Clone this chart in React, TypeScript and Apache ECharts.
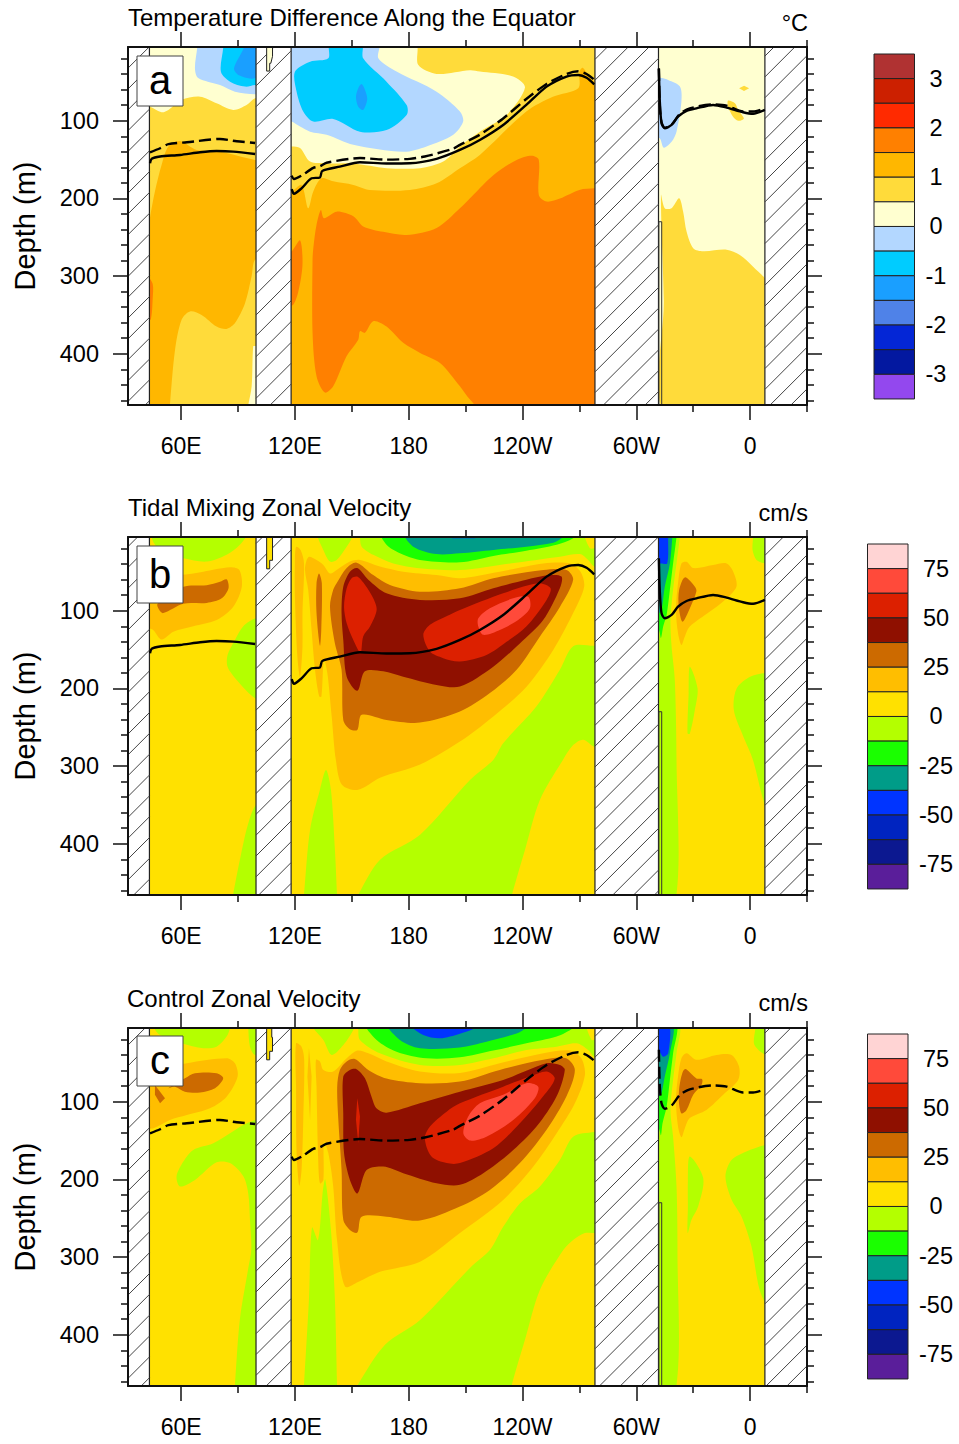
import React, { useEffect, useRef } from "react";
import * as echarts from "echarts";

const FONT = "Liberation Sans";
const LON_RANGE = [32, 390];
const DEPTH_RANGE = [5, 466];

const xMajorValues = [60, 120, 180, 240, 300, 360];
const xMajorLabels = ["60E", "120E", "180", "120W", "60W", "0"];
const xMinorValues = [90, 150, 210, 270, 330, 390];
const yMajorValues = [100, 200, 300, 400];
const yMinorValues = [20, 40, 60, 80, 120, 140, 160, 180, 220, 240, 260, 280, 320, 340, 360, 380, 420, 440, 460];

const tempLegendColors = ["#b03232", "#cc2000", "#ff2a00", "#ff8000", "#ffb700", "#ffdb3a", "#ffffd0", "#b3d7ff", "#00ccff", "#1a9fff", "#4f82e8", "#0426d6", "#0318a0", "#9348ee"];
const tempLegendLabels = ["3", "2", "1", "0", "-1", "-2", "-3"];
const velLegendColors = ["#ffd4d4", "#ff4a3a", "#dc2000", "#8f1000", "#cc6a00", "#ffbe00", "#ffe100", "#b4ff00", "#1aff00", "#009c88", "#0034ff", "#0024c0", "#0c1890", "#5a1e9a"];
const velLegendLabels = ["75", "50", "25", "0", "-25", "-50", "-75"];

const ORANGE = "#ff8000", AMBER_T = "#ffb700", YELLOW_T = "#ffdb3a", PALE = "#ffffd0", LBLUE = "#b3d7ff", CYAN = "#00ccff", BLUE_T = "#1a9fff";
const PINK = "#ff4a3a", RED = "#dc2000", DARK = "#8f1000", BROWN = "#cc6a00", AMBER = "#ffbe00", GOLD = "#ffe100", LIME = "#b4ff00", GREEN = "#1aff00", TEAL = "#009c88", BLUE = "#0034ff";

// land: [lon west, lon east]
const landSpans = [[32, 43.3], [99.5, 118], [278.2, 311.7], [367.8, 390]];
const atlanticStep = [[311.9, 230], [313.4, 230], [313.4, 470], [311.9, 470]];

const baseIndian = [[42, 0], [105, 0], [105, 470], [42, 470]];
const basePacific = [[116, 0], [280, 0], [280, 470], [116, 470]];
const baseAtlantic = [[310, 0], [369, 0], [369, 470], [310, 470]];

// thermocline depth, tidal mixing run
const tidalThermoIndian = [[43.6, 154.7], [44.5, 149], [48.9, 146], [59.4, 144], [70, 140.6], [78.7, 139], [87.5, 139.7], [99, 142.7]];
const tidalThermoPacific = [[118.3, 188], [119.5, 194], [123.5, 187], [128.8, 174], [133.2, 173], [134.4, 164.6], [143.7, 159], [154.3, 153.4], [168.3, 155], [180.6, 154.7], [194.7, 149], [207, 137.6], [217.5, 124.7], [229.8, 105.4], [242, 79.6], [252.7, 56], [263.2, 43], [269.4, 41], [273.8, 44.5], [277.8, 53]];
const tidalThermoAtlantic = [[311.9, 32.5], [312.4, 75], [313.3, 103], [315, 109.7], [318.6, 105.4], [322, 94.7], [326.5, 87.4], [331.7, 84], [340.5, 79.6], [347.6, 83], [356.3, 89], [361.6, 91], [367.8, 86]];
// thermocline depth, control run
const controlThermoIndian = [[43.6, 140.6], [48.9, 135.4], [53.3, 130], [63, 127.7], [80.5, 123.4], [89.3, 126.4], [99, 128.6]];
const controlThermoPacific = [[118.3, 170.6], [119.5, 175], [123.5, 170.6], [129.7, 160.7], [133.2, 158.6], [136.7, 154], [154.3, 148], [168.3, 150], [180.6, 149], [188.5, 146], [203.5, 136], [207, 131], [217.5, 118], [229.8, 97], [242, 72], [252.7, 52.6], [263.2, 39.7], [269.4, 36.3], [273.8, 39.7], [277.8, 47]];
const controlThermoAtlantic = [[311.9, 33], [312.4, 80.5], [313.3, 102], [315, 109], [318.6, 105], [323, 91], [328.2, 84], [340.5, 79], [347.6, 80.5], [356.3, 88], [361.6, 88], [367.8, 84]];

// ---- panel a: temperature difference contours (lon, depth)
const aIndianOrange = [[42, 300], [45, 310], [45, 330], [44, 356], [42, 356]];
const aIndianYellowDeep = [[54.1, 470], [54.1, 466], [56.8, 395], [60.3, 356], [64.7, 345.5], [70.8, 350], [78.7, 365], [84, 368], [88.4, 360.5], [93.7, 335], [97.2, 300], [99, 279], [105, 279], [105, 470]];
const aIndianPaleDeep = [[95.4, 466], [97.2, 442], [98, 390.5], [99, 390], [105, 390], [105, 470], [95, 470]];
const aIndianYellow = [[42, 0], [105, 0], [105, 150.4], [99, 150.4], [80.5, 140], [68.2, 137.6], [59.4, 126], [53.3, 133], [49.7, 157], [46.2, 191], [43.6, 225], [42, 260]];
const aIndianPale = [[42, 0], [105, 0], [105, 70], [99, 71], [94.5, 79.6], [87.5, 86], [78.7, 77.5], [70, 69], [60.3, 73], [53.3, 86], [49.7, 89], [43.6, 82], [42, 82]];
const aIndianLBlue = [[68.5, 0], [68.5, 5.8], [67.3, 32.5], [69, 45], [80.5, 54], [88.4, 62.5], [99, 66], [105, 66], [105, 0]];
const aIndianCyan = [[82.2, 0], [82.2, 6], [81, 37], [85.8, 49.6], [93.7, 56], [99, 54], [105, 54], [105, 0]];
const aIndianBlue = [[93.1, 0], [93.1, 6], [87.9, 32.5], [90.2, 41], [97.2, 46], [99, 45], [105, 45], [105, 0]];
const aPacificOrange = [[129.3, 373], [129.3, 279], [129.7, 264], [131.4, 234], [133.7, 215], [135.3, 225.5], [142, 217], [150.8, 223], [156, 236], [166.6, 243], [178.9, 247], [194.7, 238], [207, 212.6], [214, 195.5], [224.6, 170], [236.9, 150.4], [244.8, 145], [248.6, 150.4], [248.6, 195.5], [252.7, 204], [259.7, 200], [270, 189], [278, 187], [282, 187], [282, 480], [222, 480], [212.3, 459], [207, 442], [196.5, 412], [186, 399], [177.1, 386], [168.3, 365], [161.3, 358], [156.9, 373], [154.3, 371], [153.4, 382], [147.3, 403], [140.2, 442], [135.8, 450], [131.4, 429]];
const aPacificOrangeWest = [[116, 268], [118.3, 268], [122.7, 254], [124, 285], [121.8, 320], [119.1, 337], [116, 337]];
const aPacificYellow = [[116, 0], [282, 0], [282, 50], [278, 49.6], [274.6, 41], [271.7, 31.6], [270, 37], [269.4, 58], [256, 69], [242, 88], [217.5, 144], [207, 161], [194.7, 180.5], [180.6, 189], [159.5, 189], [150.8, 182.6], [140.2, 178], [134, 174], [129.7, 191], [127, 212.6], [123.5, 182.6], [118.3, 191], [116, 191]];
const aPacificPale = [[116, 0], [183.3, 0], [185, 28], [194.7, 39.7], [212.3, 35], [217.5, 36.7], [235, 43], [241.3, 57.3], [231.6, 92.5], [217.5, 114], [207, 133], [198.2, 152.6], [186, 161], [168.3, 161], [150.8, 155], [136.7, 155], [128, 152.6], [122.7, 135], [118.3, 133], [116, 133]];
const aPacificLBlue = [[116, 0], [164, 0], [164, 19.6], [173.6, 36.7], [194.7, 62.5], [207, 88], [208.7, 101], [203.5, 118], [189.4, 133], [177.1, 140], [150.8, 131], [136.7, 118], [128, 114], [122.7, 107.5], [118.3, 101], [116, 101]];
const aPacificCyan = [[138.5, 0], [137.6, 19.6], [128, 24], [120, 37], [120.9, 62.5], [124.4, 88], [129.7, 101], [140.2, 97.7], [154.3, 114], [168.3, 112], [178.9, 92.5], [178.9, 79.6], [168.3, 49.6], [156, 19.6], [155.2, 0]];
const aPacificBlue = [[155.2, 52.6], [157.3, 62.5], [158.1, 73], [156, 86], [153.4, 82], [152.2, 69], [153.4, 58]];
const aAtlanticYellow = [[315.6, 480], [314.5, 330], [313, 195.5], [315, 212.6], [318.6, 212.6], [322.6, 199.8], [324.7, 217], [326.5, 242.7], [330, 264], [335.3, 268], [347.6, 266], [354.6, 272.7], [361.6, 288], [369, 310], [369, 480]];
const aAtlanticLBlue = [[310, 45], [313.3, 45], [316.8, 47.5], [323, 56], [323.8, 75], [321.2, 114], [318.6, 127], [314.5, 134.6], [312.4, 122.5], [310, 122]];
const aAtlanticSpotNorth = [[354.2, 58], [356.8, 54.8], [359.5, 58], [356.8, 61.6]];
const aAtlanticSpotSouth = [[348.4, 74], [352, 77.5], [353.7, 86], [356.7, 97], [353.7, 100], [351, 94.7], [348.4, 82]];
const aStrait = [[105.1, 0], [108.2, 0], [108.2, 17], [107.3, 26], [106.7, 26], [106.7, 36], [105.1, 36]];

// ---- panel b: tidal mixing zonal velocity contours
const bIndianLimeTop = [[45, 0], [45.5, 12], [50.6, 25], [61.2, 32.5], [73.5, 36.7], [84, 28], [91, 15], [94.5, 0]];
const bIndianAmber = [[42, 56], [59.4, 54], [71.7, 49.6], [85.8, 44], [90.7, 47.5], [92, 69], [87.5, 94.7], [78.7, 112], [66.4, 120], [55.9, 127], [49.7, 137], [45.4, 125], [42, 120]];
const bIndianBrown = [[84, 59.5], [85, 71], [81.4, 84], [73.5, 90], [61.2, 91], [50.6, 103], [48.5, 99], [47.6, 91], [61.2, 69], [73.5, 67], [80.5, 62.5]];
const bIndianLimeEast = [[105, 110], [99, 110], [92.8, 120], [88.4, 137.6], [84.5, 157], [84.5, 172], [89.3, 189], [99, 212.6], [105, 215]];
const bIndianLimeDeep = [[87.4, 470], [87.4, 466], [91, 420.7], [95.2, 375.6], [99.5, 350], [105, 350], [105, 470]];
const bPacificLimeDeep = [[282, 145], [277.8, 145], [266.7, 145.6], [259.7, 176], [247.4, 223], [229.8, 270.6], [224.6, 292], [212.3, 318], [186, 388.5], [164.9, 420.7], [153.3, 466], [153, 470], [234.4, 470], [234.4, 466], [241.3, 408], [249.2, 343.5], [261.3, 292], [266.7, 273], [272, 266], [277.8, 275], [282, 275]];
const bPacificLimeWest = [[124.8, 466], [128, 382], [133.2, 330.6], [136.4, 305], [139, 330.6], [141.1, 408], [142.2, 466], [142.2, 470], [124.8, 470]];
const bPacificAmberWest = [[120.6, 18], [123, 21.7], [124.8, 39], [124, 103], [124, 146], [122.7, 184.8], [121.3, 159], [120, 82], [120, 39]];
const bPacificAmber = [[127.6, 30.3], [131.4, 34.6], [135, 41], [138.5, 52], [142, 47.5], [149, 36.7], [154.3, 34.6], [164.8, 43], [177.1, 49.6], [194.7, 54], [207, 58], [228, 49.6], [251, 39], [265, 39], [270.6, 49.6], [272.5, 69], [266.7, 103], [256.2, 150.4], [242, 198], [224.6, 236], [207, 268.4], [186, 298], [164.9, 315], [153.3, 330.6], [144.8, 324], [141.6, 292], [139.4, 236], [137.1, 180], [135.3, 163], [134, 210.5], [132.8, 210.5], [130.6, 176], [128.8, 125], [127, 73], [125.3, 47.5], [126.2, 34.6]];
const bPacificBrownStreak = [[132.7, 52], [134.2, 64.6], [133.9, 124.7], [133.2, 145], [131.4, 103], [131.4, 64.6]];
const bPacificBrown = [[138.5, 94.7], [140.2, 73], [142, 64.6], [147.3, 45], [152.5, 38], [161.3, 54], [170.1, 66.8], [185.9, 75.4], [207, 71], [224.6, 58], [251, 47.5], [263.2, 47.5], [266.7, 60], [259.7, 95], [249.2, 133], [236.9, 176], [222.8, 206], [207, 229.8], [185.9, 244], [168.3, 240.5], [155.2, 234], [152.9, 253.4], [149, 252.5], [145.5, 240.5], [144.6, 176], [141.1, 142]];
const bPacificDark = [[145.5, 69], [149, 49.6], [152.9, 45], [158.7, 60], [168.3, 77.5], [185.9, 86], [207, 84], [224.6, 71], [242, 60], [254.4, 54], [260.6, 56], [259.7, 71], [250.9, 112], [238.6, 142], [224.6, 172], [207, 197.6], [194.7, 195.5], [177.1, 185], [166.6, 178], [156.9, 178], [153, 203], [147.3, 184.8], [145.5, 137.6], [144.6, 103]];
const bPacificRedWest = [[152.9, 56], [157, 66.8], [161.3, 84], [163.1, 99], [159.6, 120.4], [156, 133], [154.6, 154], [150.8, 137.6], [147.3, 116], [145.9, 94.7], [147.3, 71], [149.9, 58]];
const bPacificRedEast = [[207, 99], [201.7, 105], [191.2, 118], [187.7, 131], [191.2, 152.6], [198.2, 161], [207, 165.4], [221, 157], [231.6, 140], [242, 120.4], [252.7, 86], [254.8, 71], [248.3, 64.6], [229.8, 77.5]];
const bPacificPink = [[216.7, 109.7], [222.8, 96.8], [235.1, 84], [243, 81.8], [243.9, 96.8], [237.7, 111.8], [228, 124.7], [219.3, 131], [216.7, 120.4]];
const bPacificLimePatch = [[132.3, 0], [135, 21.7], [138.5, 36.7], [142, 34.6], [147.3, 17.4], [149.9, 7], [150.5, 0]];
const bPacificLimeTop = [[154.3, 0], [154.3, 6.7], [155.2, 17.4], [161.3, 28], [171.9, 39], [185.9, 45.3], [207, 47.5], [233.4, 39], [259.7, 30.3], [270.3, 27], [274.6, 34.6], [277.8, 43], [282, 43], [282, 0]];
const bPacificGoldPatch = [[272.9, 0], [275.5, 19.6], [278, 19.6], [282, 19.6], [282, 0]];
const bPacificGreen = [[165.7, 0], [168.3, 15], [175.4, 26], [185.9, 34.6], [207, 37.6], [224.6, 29.4], [242, 22.6], [258, 15], [266.7, 6.7], [268, 0]];
const bPacificTeal = [[178, 0], [182.4, 17.4], [194.7, 27], [207, 26], [224.6, 21.7], [242, 17.4], [256.2, 12.3], [260.6, 6.7], [261.5, 0]];
const bPacificBlue = [[203, 0], [203, 6.5], [215, 6.5], [216, 0]];
const bAtlanticLimeWest = [[310, 0], [323, 0], [323, 5], [321.2, 39], [319.4, 73], [318, 112], [318.6, 146], [320.3, 189], [321.2, 292], [320.9, 470], [310, 470]];
const bAtlanticGreen = [[310, 0], [321.2, 0], [321.2, 5], [319.4, 39], [317.7, 73], [316, 105], [314.2, 120], [313, 135], [312, 125], [310, 120]];
const bAtlanticTeal = [[310, 0], [319, 0], [319, 5], [317.7, 39], [315, 69], [313.3, 99], [312, 103], [310, 103]];
const bAtlanticBlue = [[310, 0], [316.8, 0], [316.8, 5], [316.3, 39], [313, 39], [310, 39]];
const bAtlanticAmber = [[323.8, 39], [326.5, 37], [330, 45], [340.5, 41], [347.6, 39], [351.1, 49.6], [352.8, 69], [345.8, 88], [338.8, 101], [328.2, 120.4], [325.6, 133], [323.8, 144], [322, 129], [320.9, 99], [322, 64.6]];
const bAtlanticBrown = [[325.6, 57], [330.9, 69], [331.7, 75], [328.2, 97], [324.4, 114], [322.4, 95], [322.6, 73]];
const bAtlanticLimeNE = [[361.6, 0], [361.6, 5], [361.3, 21.7], [363.4, 34.6], [367.8, 39], [370, 39], [370, 0]];
const bAtlanticLimeEast = [[370, 180], [367.8, 180], [360, 185], [352.9, 200], [351.4, 227.6], [356.4, 262], [361.5, 292], [366.2, 337], [370, 365]];
const bAtlanticLimeStreak = [[328.2, 172], [332.3, 199.8], [330.9, 227.6], [328.2, 258.5], [327, 257.6], [327.6, 206]];
const bStrait = [[105.1, 0], [108.2, 0], [108.2, 35], [106.7, 35], [106.7, 46], [105.1, 46]];

// ---- panel c: control zonal velocity contours
const cIndianLimeTop = [[46, 0], [46.2, 7], [48.9, 14], [60.3, 24.7], [71.7, 31], [78.7, 29], [84, 16], [85.8, 5], [86, 0]];
const cIndianLimeNE = [[95.4, 0], [95.4, 5], [96.3, 29], [99, 39.7], [105, 39.7], [105, 0]];
const cIndianAmber = [[42, 80.5], [50.6, 59], [63, 50.5], [84, 44], [88.4, 50.5], [89.8, 67.6], [84, 93.4], [75.2, 108.4], [63, 117], [54.1, 123.4], [45.4, 134], [42, 133]];
const cIndianBrown = [[62, 69.8], [67.3, 63.3], [78.7, 63.3], [82.2, 69.8], [77.9, 82.6], [70, 88], [62, 87], [56.8, 80.5], [53.3, 82.6]];
const cIndianBrownWest = [[46.2, 78.4], [51.5, 95.5], [48.9, 102], [46.2, 91]];
const cIndianLimeEast = [[105, 123.4], [99, 123.4], [92.8, 130], [85.8, 140.6], [77, 153.4], [66.4, 162], [61.2, 177], [57.6, 196], [59.4, 209], [67.3, 200.6], [78.7, 178], [85.8, 179], [92.8, 196], [95.4, 218], [96.3, 252], [97, 290], [95.3, 316], [91, 380], [88.4, 464], [88.4, 470], [105, 470]];
const cPacificLimeDeep = [[282, 139], [277.8, 139], [266.7, 145], [259.7, 175], [249.2, 209], [238.6, 231], [229.8, 261], [222.8, 291], [212.3, 314], [186, 381], [167.5, 413], [153.3, 464], [153, 470], [234.4, 470], [234.4, 464], [241.3, 406.5], [249.2, 342], [261.5, 291], [266.7, 278], [272.9, 269], [277.8, 269], [282, 269]];
const cPacificLimeWest = [[124.8, 464], [127.4, 355], [129, 262], [132.2, 278], [134.8, 213], [136, 200], [139, 265], [141.1, 355], [142.2, 464], [142.2, 470], [124.8, 470]];
const cPacificAmberWest = [[120.6, 24.7], [123.5, 29], [124.9, 46], [124.4, 123.4], [123.5, 188], [122.3, 208], [120.9, 166], [120.6, 80.5]];
const cPacificAmberThin = [[127.4, 31], [128.8, 67.6], [128, 123.4], [126.6, 67.6]];
const cPacificAmber = [[140.2, 61], [147.3, 44], [152.9, 34], [158.7, 37.6], [168.3, 48], [185.9, 61], [207, 63], [228, 50.5], [251, 37.6], [265, 34], [271, 44], [272.9, 65.5], [267.6, 102], [258, 140.6], [245.7, 183.5], [229.8, 226.4], [207, 269], [186, 306], [164.9, 319], [153.3, 332], [146.4, 338], [142.2, 278], [140.2, 209], [137.6, 166], [135.3, 151], [135, 200.6], [133.2, 205], [132.3, 175], [131.4, 80.5], [131.1, 46], [133.2, 48], [135, 59]];
const cPacificBrown = [[142.3, 80.5], [143.7, 59], [147.3, 48], [151.6, 45], [158.7, 59], [168.3, 70], [185.9, 76], [207, 74], [228, 59], [251, 46], [263, 44], [267.6, 59], [263.2, 93], [252.7, 136], [238.6, 179], [222.8, 213.5], [207, 235], [185.9, 253], [168.3, 248], [155.2, 248], [152.9, 268.4], [149, 265], [145.5, 252], [144.6, 188], [142.9, 123.4]];
const cPacificDark = [[145.5, 67.6], [149, 59], [152.5, 58], [157, 70], [160.4, 93.4], [163, 108.4], [168.3, 114], [185.9, 102], [207, 87], [229.8, 72], [252.7, 50.5], [259.7, 52.6], [262.3, 59], [258, 93], [247.4, 132], [233.4, 166], [219.3, 192], [207, 207], [194.7, 205], [177.1, 192], [166.6, 183.5], [157.8, 188], [153, 218], [149, 200.6], [145.9, 166], [145.5, 115]];
const cPacificRedStreak = [[152.9, 95.5], [154.3, 119], [153.4, 153], [152.2, 123]];
const cPacificRed = [[207, 102], [200, 112.7], [191.2, 132], [188.5, 147], [192, 170.6], [200, 179], [207, 179], [224.6, 160], [238.6, 127.7], [250.9, 93], [257, 70], [252.7, 61], [243.9, 67.6], [229.8, 80.5]];
const cPacificPink = [[208.8, 140.6], [211.4, 119], [217.5, 102], [229.8, 91], [242, 76], [248.3, 80.5], [246.5, 95.5], [235.1, 123.4], [221, 145], [212.3, 150]];
const cPacificLimePatch = [[129.7, 0], [129.7, 5], [135, 20.4], [139.4, 39.7], [145.5, 27], [150.8, 7.5], [151.5, 0]];
const cPacificLimeTop = [[153.4, 0], [153.4, 7], [154.3, 20.4], [164.8, 37.6], [185.9, 52.6], [207, 52.6], [224.6, 44], [242, 33.3], [258, 29], [268.5, 24.7], [274.6, 33.3], [277.8, 42], [282, 42], [282, 0]];
const cPacificGoldPatch = [[273.8, 0], [276.4, 20.4], [278, 20], [282, 20], [282, 0]];
const cPacificGreen = [[157.8, 0], [163.1, 20.4], [173.6, 35.5], [189.4, 44], [207, 42.8], [224.6, 34], [242, 24.7], [258, 16], [266.7, 5], [267, 0]];
const cPacificTeal = [[169.2, 0], [175.4, 20.4], [185.9, 31], [207, 30], [221, 22.6], [236.9, 12], [242, 5], [243, 0]];
const cPacificBlue = [[180.6, 0], [187.7, 14], [196.5, 18.3], [207, 12.4], [215, 5], [216, 0]];
const cAtlanticLimeWest = [[310, 0], [322.6, 0], [321.2, 37.6], [319.4, 72], [318, 110.5], [319.4, 145], [321.2, 209], [321.7, 291], [320.9, 470], [310, 470]];
const cAtlanticGreen = [[310, 0], [321.2, 0], [319.4, 37.6], [317.7, 72], [316, 106], [313.8, 128], [313, 143], [312, 135], [310, 130]];
const cAtlanticTeal = [[310, 0], [319.4, 0], [317.7, 37.6], [315, 67.6], [313.3, 89], [312, 93], [310, 93]];
const cAtlanticBlue = [[310, 0], [317.3, 0], [316.8, 37.6], [314.2, 42], [312, 35], [310, 33]];
const cAtlanticAmber = [[323.8, 44], [326.5, 37.6], [331.7, 46], [342.3, 39.7], [350.2, 39.7], [354.2, 55], [353.7, 72], [345.8, 91], [337, 110.5], [328.2, 121], [325.6, 134], [323.8, 145.7], [322, 132], [320.9, 97.7], [322, 67.6]];
const cAtlanticBrown = [[325.6, 58], [331.7, 70], [334.7, 71], [334.4, 78], [330, 91], [326.5, 110.5], [323.8, 115], [322.4, 97.7], [323, 76]];
const cAtlanticLimeNE = [[362.8, 0], [362.8, 5], [362, 24.7], [364.3, 33], [367.8, 39], [370, 39], [370, 0]];
const cAtlanticLimeEast = [[370, 155.6], [367.8, 155.6], [358, 164], [350.2, 175], [347, 196], [350.2, 226], [355.5, 248], [360.7, 286], [365, 342], [370, 365]];
const cAtlanticLimeStreak = [[328.2, 170.6], [335.3, 198.5], [332.6, 235], [329.1, 252], [327.1, 269], [327.2, 235], [327.2, 200.6]];
const cStrait = [[105.1, 0], [107.8, 0], [107.8, 17], [108.2, 17], [108.2, 35], [106.7, 35], [106.7, 46], [105.1, 46]];

type Layer = [string, number[][]];
const layersA: Layer[] = [
  [AMBER_T, baseIndian], [AMBER_T, basePacific], [PALE, baseAtlantic],
  [ORANGE, aIndianOrange], [YELLOW_T, aIndianYellowDeep], [PALE, aIndianPaleDeep], [YELLOW_T, aIndianYellow], [PALE, aIndianPale], [LBLUE, aIndianLBlue], [CYAN, aIndianCyan], [BLUE_T, aIndianBlue],
  [ORANGE, aPacificOrange], [ORANGE, aPacificOrangeWest], [YELLOW_T, aPacificYellow], [PALE, aPacificPale], [LBLUE, aPacificLBlue], [CYAN, aPacificCyan], [BLUE_T, aPacificBlue],
  [YELLOW_T, aAtlanticYellow], [LBLUE, aAtlanticLBlue], [YELLOW_T, aAtlanticSpotNorth], [YELLOW_T, aAtlanticSpotSouth],
];
const layersB: Layer[] = [
  [GOLD, baseIndian], [GOLD, basePacific], [GOLD, baseAtlantic],
  [LIME, bIndianLimeTop], [AMBER, bIndianAmber], [BROWN, bIndianBrown], [LIME, bIndianLimeEast], [LIME, bIndianLimeDeep],
  [LIME, bPacificLimeDeep], [LIME, bPacificLimeWest], [AMBER, bPacificAmberWest], [AMBER, bPacificAmber], [BROWN, bPacificBrownStreak], [BROWN, bPacificBrown], [DARK, bPacificDark], [RED, bPacificRedWest], [RED, bPacificRedEast], [PINK, bPacificPink],
  [LIME, bPacificLimePatch], [LIME, bPacificLimeTop], [GOLD, bPacificGoldPatch], [GREEN, bPacificGreen], [TEAL, bPacificTeal], [BLUE, bPacificBlue],
  [LIME, bAtlanticLimeWest], [GREEN, bAtlanticGreen], [TEAL, bAtlanticTeal], [BLUE, bAtlanticBlue], [AMBER, bAtlanticAmber], [BROWN, bAtlanticBrown], [LIME, bAtlanticLimeNE], [LIME, bAtlanticLimeEast], [LIME, bAtlanticLimeStreak],
];
const layersC: Layer[] = [
  [GOLD, baseIndian], [GOLD, basePacific], [GOLD, baseAtlantic],
  [LIME, cIndianLimeTop], [LIME, cIndianLimeNE], [AMBER, cIndianAmber], [BROWN, cIndianBrown], [BROWN, cIndianBrownWest], [LIME, cIndianLimeEast],
  [LIME, cPacificLimeDeep], [LIME, cPacificLimeWest], [AMBER, cPacificAmberWest], [AMBER, cPacificAmberThin], [AMBER, cPacificAmber], [BROWN, cPacificBrown], [DARK, cPacificDark], [RED, cPacificRedStreak], [RED, cPacificRed], [PINK, cPacificPink],
  [LIME, cPacificLimePatch], [LIME, cPacificLimeTop], [GOLD, cPacificGoldPatch], [GREEN, cPacificGreen], [TEAL, cPacificTeal], [BLUE, cPacificBlue],
  [LIME, cAtlanticLimeWest], [GREEN, cAtlanticGreen], [TEAL, cAtlanticTeal], [BLUE, cAtlanticBlue], [AMBER, cAtlanticAmber], [BROWN, cAtlanticBrown], [LIME, cAtlanticLimeNE], [LIME, cAtlanticLimeEast], [LIME, cAtlanticLimeStreak],
];

const panels = [
  { top: 47, title: "Temperature Difference Along the Equator", titleLeft: 128, unit: "\u00b0C", unitY: 23, letter: "a", box: [137, 56, 46, 50], layers: layersA, strait: aStrait, straitColor: PALE, hatch: 3.3, bar: [874, 54], colors: tempLegendColors, labels: tempLegendLabels, solid: true, dashed: true },
  { top: 537, title: "Tidal Mixing Zonal Velocity", titleLeft: 128, unit: "cm/s", unitY: 513, letter: "b", box: [137, 546, 46, 57], layers: layersB, strait: bStrait, straitColor: GOLD, hatch: 12.6, bar: [867.5, 544], colors: velLegendColors, labels: velLegendLabels, solid: true, dashed: false },
  { top: 1028, title: "Control Zonal Velocity", titleLeft: 127, unit: "cm/s", unitY: 1003, letter: "c", box: [137, 1036, 46, 50], layers: layersC, strait: cStrait, straitColor: GOLD, hatch: 20.1, bar: [867.5, 1034], colors: velLegendColors, labels: velLegendLabels, solid: false, dashed: true },
];

const PLOT_LEFT = 128, PLOT_W = 679, PLOT_H = 358;
const HATCH_STEP = 20.83;
const AXIS_COLOR = "#111";

function makeOption() {
  const grid: any[] = [], xAxis: any[] = [], yAxis: any[] = [], series: any[] = [], graphic: any[] = [], title: any[] = [];
  panels.forEach((p, i) => {
    grid.push({ left: PLOT_LEFT, width: PLOT_W, top: p.top, height: PLOT_H, containLabel: false, outerBoundsMode: "none" });
    const xBase = { type: "value", gridIndex: i, min: LON_RANGE[0], max: LON_RANGE[1], splitLine: { show: false }, z: 10 };
    const yBase = { type: "value", gridIndex: i, min: DEPTH_RANGE[0], max: DEPTH_RANGE[1], inverse: true, splitLine: { show: false }, z: 10 };
    const line = { show: true, onZero: false, lineStyle: { color: AXIS_COLOR, width: 2 } };
    const noLine = { show: false, onZero: false };
    const tick = (vals: number[], len: number) => ({ show: true, length: len, customValues: vals, lineStyle: { color: AXIS_COLOR, width: 1.5 } });
    const base = i * 4;
    xAxis.push(
      { ...xBase, position: "bottom", axisLine: line, axisTick: tick(xMajorValues, 15),
        axisLabel: { show: true, customValues: xMajorValues, margin: 29, fontSize: 23, fontFamily: FONT, color: "#000", formatter: (v: number) => xMajorLabels[xMajorValues.indexOf(v)] } },
      { ...xBase, position: "bottom", axisLine: noLine, axisTick: tick(xMinorValues, 7), axisLabel: { show: false } },
      { ...xBase, position: "top", axisLine: line, axisTick: tick(xMajorValues, 15), axisLabel: { show: false } },
      { ...xBase, position: "top", axisLine: noLine, axisTick: tick(xMinorValues, 7), axisLabel: { show: false } },
    );
    yAxis.push(
      { ...yBase, position: "left", axisLine: line, axisTick: tick(yMajorValues, 15),
        name: "Depth (m)", nameLocation: "middle", nameGap: 89, nameRotate: 90, nameTextStyle: { fontSize: 29, fontFamily: FONT, color: "#000" },
        axisLabel: { show: true, customValues: yMajorValues, margin: 29, fontSize: 23.5, fontFamily: FONT, color: "#000" } },
      { ...yBase, position: "left", axisLine: noLine, axisTick: tick(yMinorValues, 7), axisLabel: { show: false } },
      { ...yBase, position: "right", axisLine: line, axisTick: tick(yMajorValues, 15), axisLabel: { show: false } },
      { ...yBase, position: "right", axisLine: noLine, axisTick: tick(yMinorValues, 7), axisLabel: { show: false } },
    );
    const onAxes = { coordinateSystem: "cartesian2d", xAxisIndex: base, yAxisIndex: base, silent: true };

    series.push({
      ...onAxes, type: "custom", clip: true, z: 2,
      data: p.layers.map((l, k) => [l[1][0][0], l[1][0][1], k]),
      renderItem: (params: any, api: any) => {
        const [color, pts] = p.layers[params.dataIndex];
        return {
          type: "polygon",
          shape: { points: pts.map((q) => api.coord(q)), smooth: pts.length > 4 ? 0.3 : 0 },
          style: { fill: color, stroke: null },
        };
      },
    });

    series.push({
      ...onAxes, type: "custom", clip: true, z: 4,
      data: landSpans.map((s) => [s[0], s[1]]),
      renderItem: (params: any, api: any) => {
        const s = landSpans[params.dataIndex];
        const a = api.coord([s[0], DEPTH_RANGE[0]]);
        const b = api.coord([s[1], DEPTH_RANGE[1]]);
        const [L, T, R, B] = [a[0], a[1], b[0], b[1]];
        const children: any[] = [{ type: "rect", shape: { x: L, y: T, width: R - L, height: B - T }, style: { fill: "#fff", stroke: "#222", lineWidth: 1.2 } }];
        for (let k = 0; k < 60; k++) {
          const x0 = p.hatch + k * HATCH_STEP;
          const c = x0 + T;
          const x1 = Math.max(L, c - B);
          const x2 = Math.min(R, c - T);
          if (x1 < x2) children.push({ type: "line", shape: { x1, y1: c - x1, x2, y2: c - x2 }, style: { stroke: "#444", lineWidth: 1 } });
        }
        return { type: "group", children };
      },
    });

    series.push({
      ...onAxes, type: "custom", clip: true, z: 5,
      data: [[p.strait[0][0], 5, 0], [atlanticStep[0][0], 230, 1]],
      renderItem: (params: any, api: any) => {
        const pts = params.dataIndex === 0 ? p.strait : atlanticStep;
        return {
          type: "polygon",
          shape: { points: pts.map((q) => api.coord(q)) },
          style: params.dataIndex === 0 ? { fill: p.straitColor, stroke: "#222", lineWidth: 1 } : { fill: "none", stroke: "#333", lineWidth: 1 },
        };
      },
    });

    const thermo = (d: number[][], dashed: boolean) => ({
      ...onAxes, type: "line", data: d, symbol: "none", smooth: 0.25, z: 8,
      lineStyle: { color: "#000", width: 2.4, type: dashed ? [12, 5] : "solid" },
    });
    if (p.solid) series.push(thermo(tidalThermoIndian, false), thermo(tidalThermoPacific, false), thermo(tidalThermoAtlantic, false));
    if (p.dashed) series.push(thermo(controlThermoIndian, true), thermo(controlThermoPacific, true), thermo(controlThermoAtlantic, true));

    title.push({ text: p.title, left: p.titleLeft, top: p.top - 41.5, padding: 0, textStyle: { fontSize: 24, fontWeight: "normal", fontFamily: FONT, color: "#000" } });
    graphic.push({ type: "text", z: 100, x: 808, y: p.unitY, style: { text: p.unit, align: "right", verticalAlign: "middle", fontSize: 23.5, fontFamily: FONT, fill: "#000" } });

    const [bx, by, bw, bh] = p.box;
    graphic.push({ type: "rect", z: 100, shape: { x: bx, y: by, width: bw, height: bh }, style: { fill: "#fff", stroke: "#444", lineWidth: 1 } });
    graphic.push({ type: "text", z: 101, x: bx + bw / 2, y: by + bh / 2 - 1, style: { text: p.letter, align: "center", verticalAlign: "middle", fontSize: 40, fontFamily: FONT, fill: "#000" } });

    const h = 24.64;
    p.colors.forEach((c, k) => {
      graphic.push({ type: "rect", z: 100, shape: { x: p.bar[0], y: p.bar[1] + k * h, width: 40.5, height: h }, style: { fill: c, stroke: "#222", lineWidth: 1 } });
    });
    p.labels.forEach((t, k) => {
      graphic.push({ type: "text", z: 100, x: 936, y: p.bar[1] + (2 * k + 1) * h, style: { text: t, align: "center", verticalAlign: "middle", fontSize: 23.5, fontFamily: FONT, fill: "#000" } });
    });
  });
  return { animation: false, backgroundColor: "#fff", title, grid, xAxis, yAxis, series, graphic };
}

export default function App() {
  const ref = useRef<HTMLDivElement>(null);
  useEffect(() => {
    const chart = echarts.init(ref.current!, undefined, { renderer: "svg" });
    chart.setOption(makeOption() as any);
    return () => chart.dispose();
  }, []);
  return <div ref={ref} style={{ position: "absolute", left: 0, top: 0, width: 959, height: 1444 }} />;
}
